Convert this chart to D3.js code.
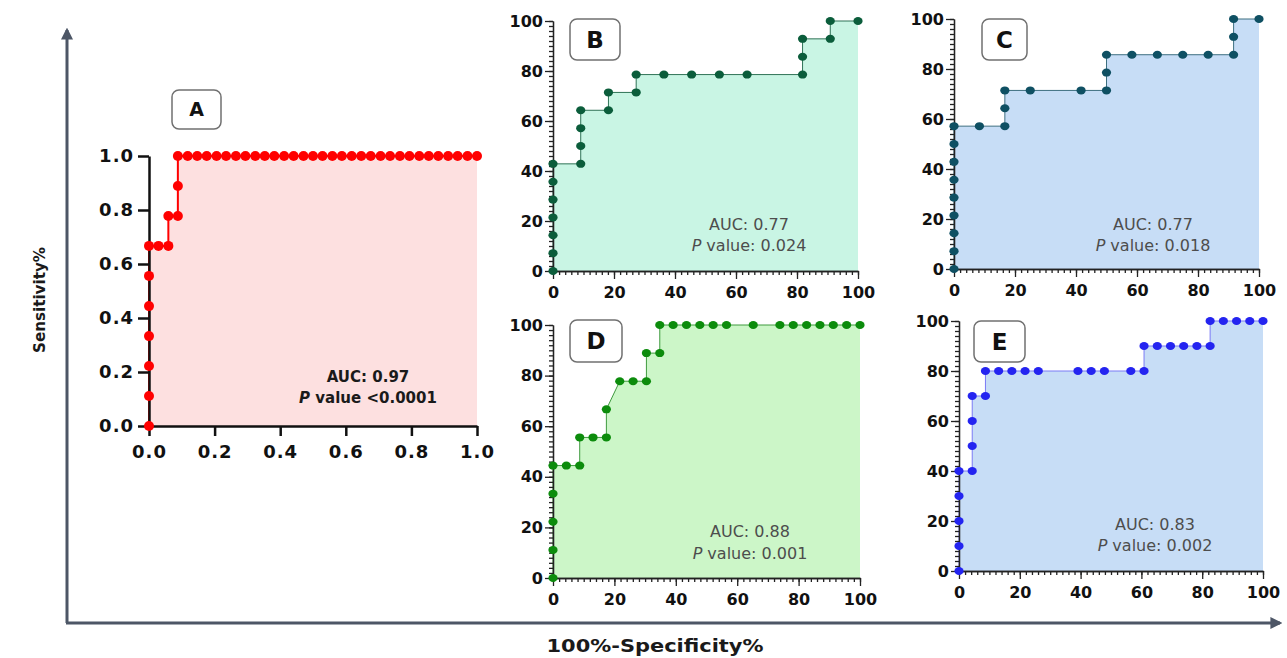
<!DOCTYPE html>
<html lang="en">
<head>
    <meta charset="UTF-8">
    <title>ROC curves</title>
    <style>
        body { margin: 0; background: #fff; }
        svg { display: block; }
    </style>
</head>
<body>
<script src="https://cdn.jsdelivr.net/npm/d3@7"></script>
<script>
    // panel A (proportions)
    const aFpr = [0, 0, 0, 0, 0, 0, 0, 0.029, 0.059, 0.059, 0.088, 0.088,
        0.088, 0.118, 0.147, 0.176, 0.206, 0.235, 0.265, 0.294, 0.324, 0.353, 0.382, 0.412,
        0.441, 0.471, 0.5, 0.529, 0.559, 0.588, 0.618, 0.647, 0.676, 0.706, 0.735, 0.765,
        0.794, 0.824, 0.853, 0.882, 0.912, 0.941, 0.971, 1.0]
    const aTpr = [0, 0.111, 0.222, 0.333, 0.444, 0.556, 0.667, 0.667, 0.667, 0.778, 0.778, 0.889,
        1, 1, 1, 1, 1, 1, 1, 1, 1, 1, 1, 1,
        1, 1, 1, 1, 1, 1, 1, 1, 1, 1, 1, 1,
        1, 1, 1, 1, 1, 1, 1, 1]

    // panels B-E (percent)
    const bFpr = [0, 0, 0, 0, 0, 0, 0, 9.09, 9.09, 9.09, 9.09, 18.18, 18.18, 27.27, 27.27,
        36.36, 45.45, 54.55, 63.64, 81.82, 81.82, 81.82, 90.91, 90.91, 100]
    const bTpr = [0, 7.14, 14.29, 21.43, 28.57, 35.71, 42.86, 42.86, 50, 57.14, 64.29, 64.29, 71.43, 71.43, 78.57,
        78.57, 78.57, 78.57, 78.57, 78.57, 85.71, 92.86, 92.86, 100, 100]

    const cFpr = [0, 0, 0, 0, 0, 0, 0, 0, 0, 8.33, 16.67, 16.67, 16.67, 25, 41.67, 50, 50, 50,
        58.33, 66.67, 75, 83.33, 91.67, 91.67, 91.67, 100]
    const cTpr = [0, 7.14, 14.29, 21.43, 28.57, 35.71, 42.86, 50, 57.14, 57.14, 57.14, 64.29, 71.43, 71.43, 71.43, 71.43, 78.57, 85.71,
        85.71, 85.71, 85.71, 85.71, 85.71, 92.86, 100, 100]

    const dFpr = [0, 0, 0, 0, 0, 4.35, 8.70, 8.70, 13.04, 17.39, 17.39, 21.74, 26.09, 30.43, 30.43, 34.78, 34.78,
        39.13, 43.48, 47.83, 52.17, 56.52, 65.22, 73.91, 78.26, 82.61, 86.96, 91.30, 95.65, 100]
    const dTpr = [0, 11.11, 22.22, 33.33, 44.44, 44.44, 44.44, 55.56, 55.56, 55.56, 66.67, 77.78, 77.78, 77.78, 88.89, 88.89, 100,
        100, 100, 100, 100, 100, 100, 100, 100, 100, 100, 100, 100, 100]

    const eFpr = [0, 0, 0, 0, 0, 4.35, 4.35, 4.35, 4.35, 8.70, 8.70,
        13.04, 17.39, 21.74, 26.09, 39.13, 43.48, 47.83, 56.52, 60.87,
        60.87, 65.22, 69.57, 73.91, 78.26, 82.61, 82.61, 86.96, 91.30, 95.65, 100]
    const eTpr = [0, 10, 20, 30, 40, 40, 50, 60, 70, 70, 80,
        80, 80, 80, 80, 80, 80, 80, 80, 80,
        90, 90, 90, 90, 90, 90, 100, 100, 100, 100, 100]

    const aTicks = [0, 0.2, 0.4, 0.6, 0.8, 1.0]
    const pctTicks = [0, 20, 40, 60, 80, 100]
    const panelLetters = ["A", "B", "C", "D", "E"]
    const aucLabels = ["AUC: 0.97", "AUC: 0.77", "AUC: 0.77", "AUC: 0.88", "AUC: 0.83"]
    const pLabels = [" value <0.0001", " value: 0.024", " value: 0.018", " value: 0.001", " value: 0.002"]

    let width = 1287
    let height = 658

    let svg = d3.select("body").append("svg")
        .attr("width", width)
        .attr("height", height)

    svg.append("rect").attr("width", width).attr("height", height).attr("fill", "#fff")

    // big outer axes with arrows
    let defs = svg.append("defs")
    defs.append("marker")
        .attr("id", "arrow")
        .attr("viewBox", "0 0 10 10")
        .attr("refX", 8).attr("refY", 5)
        .attr("markerWidth", 4).attr("markerHeight", 4)
        .attr("orient", "auto")
        .append("path").attr("d", "M0,0 L10,5 L0,10 z").attr("fill", "#4d5666")

    svg.append("path")
        .attr("d", "M67,623 L67,30")
        .attr("stroke", "#4d5666").attr("stroke-width", 3).attr("fill", "none")
        .attr("marker-end", "url(#arrow)")
    svg.append("path")
        .attr("d", "M66,623 L1280,623")
        .attr("stroke", "#4d5666").attr("stroke-width", 3).attr("fill", "none")
        .attr("marker-end", "url(#arrow)")

    svg.append("text")
        .attr("x", 655).attr("y", 652)
        .attr("text-anchor", "middle")
        .attr("font-family", "DejaVu Sans").attr("font-weight", "bold")
        .attr("font-size", 17).attr("fill", "#1a1a1a")
        .attr("textLength", 217).attr("lengthAdjust", "spacingAndGlyphs")
        .text("100%-Specificity%")

    svg.append("text")
        .attr("transform", "translate(45,300) rotate(-90)")
        .attr("text-anchor", "middle")
        .attr("font-family", "DejaVu Sans").attr("font-weight", "bold")
        .attr("font-size", 16).attr("fill", "#1a1a1a")
        .attr("textLength", 106).attr("lengthAdjust", "spacingAndGlyphs")
        .text("Sensitivity%")

    // panel geometry: [left, right, bottom, top]
    let panels = [
        { fpr: aFpr, tpr: aTpr, max: 1, box: [149, 477, 426, 156], dot: "#ff0000", line: "#ff0000", fill: "#fde0e0", lw: 2, rx: 5, ry: 5 },
        { fpr: bFpr, tpr: bTpr, max: 100, box: [553, 858, 271, 21], dot: "#0b5d3b", line: "#2f7356", fill: "#c9f5e4", lw: 1, rx: 4.6, ry: 4 },
        { fpr: cFpr, tpr: cTpr, max: 100, box: [954, 1259, 269, 19], dot: "#0f5063", line: "#3d6f80", fill: "#c7ddf6", lw: 1, rx: 4.6, ry: 4 },
        { fpr: dFpr, tpr: dTpr, max: 100, box: [553, 860, 578, 325], dot: "#0c8c0c", line: "#3f9a3f", fill: "#ccf6c8", lw: 1, rx: 4.6, ry: 4 },
        { fpr: eFpr, tpr: eTpr, max: 100, box: [959, 1263, 571, 321], dot: "#2424f0", line: "#7a7af5", fill: "#c7ddf6", lw: 1, rx: 4.6, ry: 4 }
    ]

    let letterBoxes = [[172, 90, 49, 39, 19], [570, 19, 50, 41, 23], [982, 19, 45, 41, 23], [570, 320, 52, 42, 23], [974, 321, 51, 41, 23]]
    let aucPos = [[368, 382, 403], [749, 230, 251], [1153, 230, 251], [750, 537, 559], [1155, 530, 551]]

    panels.forEach((p, i) => {
        let [x0, x1, y0, y1] = p.box
        let x = d3.scaleLinear().domain([0, p.max]).range([x0, x1])
        let y = d3.scaleLinear().domain([0, p.max]).range([y0, y1])
        let pts = p.fpr.map((d, k) => [d, p.tpr[k]])
        let g = svg.append("g")

        g.append("path")
            .datum(pts)
            .attr("fill", p.fill)
            .attr("d", d3.area().x(d => x(d[0])).y0(y(0)).y1(d => y(d[1])))

        g.append("path")
            .datum(pts)
            .attr("fill", "none")
            .attr("stroke", p.line)
            .attr("stroke-width", p.lw)
            .attr("d", d3.line().x(d => x(d[0])).y(d => y(d[1])))

        if (i === 0) {
            let ax = g.append("g").attr("transform", `translate(0,${y0})`)
                .call(d3.axisBottom(x).tickValues(aTicks).tickFormat(d3.format(".1f")).tickSize(10).tickPadding(9).tickSizeOuter(0))
            let ay = g.append("g").attr("transform", `translate(${x0},0)`)
                .call(d3.axisLeft(y).tickValues(aTicks).tickFormat(d3.format(".1f")).tickSize(11).tickPadding(4).tickSizeOuter(0))
            for (let a of [ax, ay]) {
                a.selectAll("path, line").attr("stroke", "#111").attr("stroke-width", 2.5)
                a.selectAll("text").attr("font-family", "DejaVu Sans").attr("font-weight", "bold")
                    .attr("font-size", 18).attr("fill", "#111").attr("letter-spacing", 1)
            }
        } else {
            let minor = d3.range(0, 101, 2)
            let mx = g.append("g").attr("transform", `translate(0,${y0})`)
                .call(d3.axisBottom(x).tickValues(minor).tickFormat("").tickSize(4).tickSizeOuter(0))
            let my = g.append("g").attr("transform", `translate(${x0},0)`)
                .call(d3.axisLeft(y).tickValues(minor).tickFormat("").tickSize(4).tickSizeOuter(0))
            let ax = g.append("g").attr("transform", `translate(0,${y0})`)
                .call(d3.axisBottom(x).tickValues(pctTicks).tickSize(8).tickPadding(8).tickSizeOuter(0))
            let ay = g.append("g").attr("transform", `translate(${x0},0)`)
                .call(d3.axisLeft(y).tickValues(pctTicks).tickSize(8).tickPadding(2).tickSizeOuter(0))
            for (let a of [mx, my, ax, ay]) {
                a.selectAll("path, line").attr("stroke", "#222").attr("stroke-width", 1.3)
                a.selectAll("text").attr("font-family", "DejaVu Sans").attr("font-weight", "bold")
                    .attr("font-size", 16).attr("fill", "#111")
            }
        }

        g.selectAll("ellipse.pt")
            .data(pts)
            .enter().append("ellipse")
            .attr("class", "pt")
            .attr("cx", d => x(d[0]))
            .attr("cy", d => y(d[1]))
            .attr("rx", p.rx)
            .attr("ry", p.ry)
            .attr("fill", p.dot)

        // letter badge
        let [bx, by, bw, bh, fs] = letterBoxes[i]
        svg.append("rect")
            .attr("x", bx).attr("y", by).attr("width", bw).attr("height", bh)
            .attr("rx", 7).attr("fill", "#fff")
            .attr("stroke", "#707070").attr("stroke-width", 1.5)
        svg.append("text")
            .attr("x", bx + bw / 2).attr("y", by + bh / 2)
            .attr("dy", "0.36em")
            .attr("text-anchor", "middle")
            .attr("font-family", "DejaVu Sans").attr("font-weight", "bold")
            .attr("font-size", fs).attr("fill", "#111")
            .text(panelLetters[i])

        // AUC / P annotation
        let [tx, ty1, ty2] = aucPos[i]
        let isA = i === 0
        let tg = svg.append("g")
            .attr("font-family", "DejaVu Sans")
            .attr("font-size", isA ? 15 : 16)
            .attr("font-weight", isA ? "bold" : "normal")
            .attr("fill", isA ? "#1a1a1a" : "#4d4d4d")
            .attr("text-anchor", "middle")
        tg.append("text").attr("x", tx).attr("y", ty1).text(aucLabels[i])
        let pt = tg.append("text").attr("x", tx).attr("y", ty2)
        pt.append("tspan").attr("font-style", "italic").text("P")
        pt.append("tspan").text(pLabels[i])
    })
</script>
</body>
</html>
